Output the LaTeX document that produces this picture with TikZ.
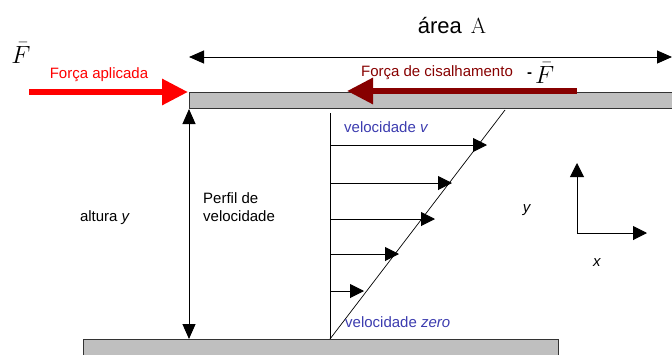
\documentclass[tikz,border=0pt]{standalone}
\usepackage{fontspec}
\setsansfont{Liberation Sans}
\usetikzlibrary{arrows.meta}
\definecolor{shearred}{RGB}{135,0,0}
\definecolor{velblue}{RGB}{60,60,175}

\begin{document}
\begin{tikzpicture} [
                x=1pt, y=-1pt,
                plate/.style={draw=black!80,fill=black!25,line width=1pt},
                plaintext/.style={font=\sffamily\fontsize{15}{18}\selectfont,inner sep=0pt},
                bluetext/.style={plaintext,text=velblue,anchor=base west},
                dimline/.style={draw,line width=1pt,{Triangle[length=15pt,width=13pt]}-{Triangle[length=15pt,width=13pt]}},
                velarrow/.style={draw,line width=1pt,-{Triangle[length=14pt,width=14pt]}},
                force/.style={draw,line width=6pt,-{Triangle[length=26pt,width=25pt]}},
            ]
            \useasboundingbox (0,0) rectangle (672,354);
            % First we draw the two plates
            \draw[plate] (189,92) rectangle (690,108);
            \draw[plate] (83,339) rectangle (558,370);
            \coordinate (topL) at (188,92);
            \coordinate (topBot) at (189,109);
            \coordinate (botTop) at (189,339);
            % Area of the plate
            \coordinate (areaL) at (189,57);
            \coordinate (areaR) at (672,57);
            \path[dimline] (areaL) -- (areaR);
            \node[plaintext,anchor=base] (area) at (452,33)
                {\fontsize{22}{26}\selectfont área\hspace{9pt}{\rmfamily A}};
            % Applied force and shear force
            \node[inner sep=0pt,font=\fontsize{27}{30}\selectfont] (F) at (21,53) {$\bar{F}$};
            \node[plaintext,text=red,anchor=base] (applied) at (99,78) {Força aplicada};
            \coordinate (pushStart) at (29,92);
            \path[force,red] (pushStart) -- (topL);
            \node[plaintext,text=shearred,anchor=base] (shear) at (437,76) {Força de cisalhamento};
            \node[plaintext,anchor=base west] (negF) at (527,83)
                {\raisebox{6pt}{\textbf{-}}\hspace{3pt}{\fontsize{26}{30}\selectfont$\bar{F}$}};
            \coordinate (shearStart) at (577,91);
            \coordinate (shearEnd) at (347,91);
            \path[force,shearred] (shearStart) -- (shearEnd);
            % Height between the plates
            \path[dimline] (topBot) -- (botTop);
            \node[plaintext,anchor=base] (height) at (105,221) {altura \textit{y}};
            \node[plaintext,anchor=north west,align=left] (profile) at (203,192) {Perfil de\\velocidade};
            % Velocity profile
            \coordinate (profTop) at (330,113);
            \coordinate (profBot) at (330,339);
            \coordinate (diagTop) at (505,110);
            \draw[line width=1pt] (profTop) -- (profBot);
            \draw[line width=0.7pt] (profBot) -- (diagTop);
            \foreach \i/\yy/\xx in {
                    1/145/487, 2/183/452, 3/219/435, 4/254/399, 5/291/364}
                {
                \coordinate (s\i) at (330,\yy);
                \coordinate (e\i) at (\xx,\yy);
                \path[velarrow] (s\i) -- (e\i);
                }
            \node[bluetext] (vtop) at (344,132) {velocidade \textit{v}};
            \node[bluetext] (vzero) at (345,327) {velocidade \textit{zero}};
            % Axes
            \coordinate (origin) at (577,233);
            \coordinate (axisY) at (577,163);
            \coordinate (axisX) at (647,233);
            \path[velarrow] (origin) -- (axisY);
            \path[velarrow] (origin) -- (axisX);
            \node[plaintext] (ylabel) at (527,210) {\textit{y}};
            \node[plaintext] (xlabel) at (597,263) {\textit{x}};
        \end{tikzpicture}
\end{document}
